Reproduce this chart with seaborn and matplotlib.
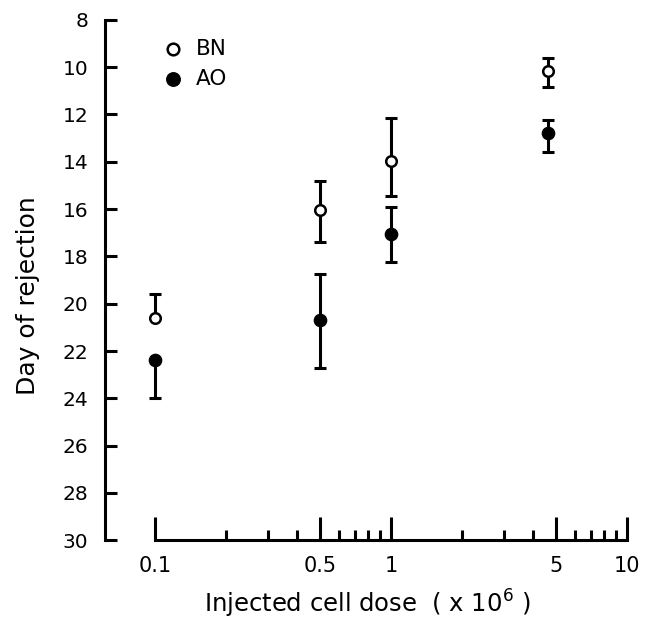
import numpy as np
import pandas as pd
import matplotlib
matplotlib.use("Agg")
import matplotlib.pyplot as plt
from matplotlib.ticker import FixedLocator, FixedFormatter, NullFormatter
import seaborn as sns

# values (day of rejection, y axis is inverted)
dose = [0.1, 0.5, 1.0, 4.6]
bn_day = [20.6, 16.05, 13.95, 10.15]
bn_low = [19.6, 14.8, 12.15, 9.6]
bn_high = [20.6, 17.4, 15.45, 10.85]
ao_day = [22.4, 20.7, 17.05, 12.8]
ao_low = [22.4, 18.75, 15.9, 12.25]
ao_high = [24.0, 22.7, 18.25, 13.6]

major_ticks = [0.1, 0.5, 1, 5, 10]
major_labels = ["0.1", "0.5", "1", "5", "10"]
minor_ticks = [0.2, 0.3, 0.4, 0.6, 0.7, 0.8, 0.9, 2, 3, 4, 6, 7, 8, 9]
y_ticks = list(range(8, 31, 2))

df = pd.DataFrame({
    "dose": dose * 2,
    "day": bn_day + ao_day,
    "strain": ["BN"] * len(dose) + ["AO"] * len(dose),
})

sns.set_style("ticks", {"text.color": "black", "axes.labelcolor": "black",
                        "xtick.color": "black", "ytick.color": "black",
                        "axes.edgecolor": "black"})
plt.rcParams["font.family"] = ["DejaVu Sans"]

fig = plt.figure(figsize=(6.49, 6.21), dpi=100)
ax = fig.add_axes([0.162, 0.130, 0.809, 0.838])

lw = 2.2
for day, low, high in [(bn_day, bn_low, bn_high), (ao_day, ao_low, ao_high)]:
    yerr = np.array([np.array(day) - np.array(low), np.array(high) - np.array(day)])
    ax.errorbar(dose, day, yerr=yerr, fmt="none", ecolor="black",
                elinewidth=lw, capsize=4, capthick=lw, zorder=2)

sns.scatterplot(data=df[df.strain == "BN"], x="dose", y="day", ax=ax,
                marker="o", s=58, facecolor="white", edgecolor="black",
                linewidth=1.8, zorder=3, label="BN")
sns.scatterplot(data=df[df.strain == "AO"], x="dose", y="day", ax=ax,
                marker="o", s=78, color="black", edgecolor="black",
                linewidth=1, zorder=3, label="AO")

ax.set_xscale("log")
ax.set_xlim(0.0614, 10.3)
ax.set_ylim(30, 8)

ax.xaxis.set_major_locator(FixedLocator(major_ticks))
ax.xaxis.set_major_formatter(FixedFormatter(major_labels))
ax.xaxis.set_minor_locator(FixedLocator(minor_ticks))
ax.xaxis.set_minor_formatter(NullFormatter())
ax.set_yticks(y_ticks)
ax.set_yticklabels([str(t) for t in y_ticks])

for side in ["top", "right"]:
    ax.spines[side].set_visible(False)
ax.spines["left"].set_linewidth(lw)
ax.spines["bottom"].set_linewidth(lw)
ax.spines["left"].set_bounds(8, 30)
ax.spines["bottom"].set_bounds(0.1, 10)

ax.tick_params(axis="x", which="major", direction="in", length=16.5, width=lw,
               pad=11, labelsize=15, colors="black")
ax.tick_params(axis="x", which="minor", direction="in", length=7, width=lw,
               colors="black")
ax.tick_params(axis="y", which="major", direction="in", length=8.5, width=lw,
               pad=12, labelsize=14.5, colors="black")

ax.set_xlabel("Injected cell dose  ( x 10$^6$ )", fontsize=17.5, labelpad=9,
              color="black")
ax.set_ylabel("Day of rejection", fontsize=18, labelpad=14, color="black")
ax.yaxis.set_label_coords(-0.125, 0.47)

leg = ax.legend(loc="upper left", bbox_to_anchor=(0.093, 0.98), frameon=False,
                fontsize=15.5, handlelength=1.0, handletextpad=0.53,
                labelspacing=0.45, borderaxespad=0, markerscale=1.1)
for t in leg.get_texts():
    t.set_color("black")

fig.savefig("out.png", dpi=100)
